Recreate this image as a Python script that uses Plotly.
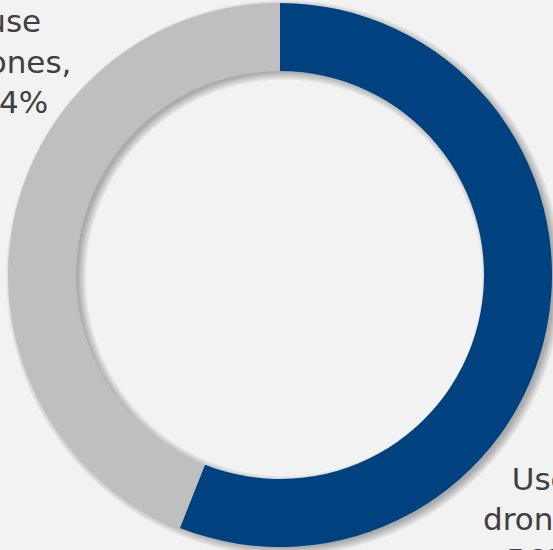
import numpy as np
import plotly.graph_objects as go

# Survey split: share of respondents who use drones
categories = ["Use drones", "Don't use drones"]
shares = [56, 44]
label_lines = [["Use", "drones,"], ["Don't", "use", "drones,"]]
colors = ["#00427f", "#bfbfbf"]

W, H = 553, 550
CX, CY = 280, 275          # ring centre in pixels
R_OUT, R_IN = 272, 204     # outer / inner radius in pixels
SH_DX, SH_DY = 4, 3        # shadow offset in pixels


def domain_for(cx, cy, r):
    return dict(x=[(cx - r) / W, (cx + r) / W],
                y=[1 - (cy + r) / H, 1 - (cy - r) / H])


def circle_path(cx, cy, r, n=240):
    t = np.linspace(0, 2 * np.pi, n, endpoint=False)
    xs = (cx + r * np.cos(t)) / W
    ys = 1 - (cy + r * np.sin(t)) / H
    pts = " L".join(f"{x:.5f},{y:.5f}" for x, y in zip(xs, ys))
    return "M" + pts + " Z"


fig = go.Figure()

# soft drop shadow under the ring: stacked faint offset ring shapes
shapes = []
for spread in [6, 5, 4, 3, 2, 1, 0, -1, -2]:
    path = circle_path(CX + SH_DX, CY + SH_DY, R_OUT + spread) + " " + \
        circle_path(CX + SH_DX, CY + SH_DY, R_IN - spread)
    shapes.append(dict(
        type="path", path=path, xref="paper", yref="paper",
        fillcolor="rgba(0,0,0,0.035)", line=dict(width=0),
        fillrule="evenodd", layer="below",
    ))

fig.add_trace(go.Pie(
    labels=categories,
    values=shares,
    hole=R_IN / R_OUT,
    domain=domain_for(CX, CY, R_OUT),
    sort=False,
    direction="clockwise",
    rotation=0,
    marker=dict(colors=colors, line=dict(width=0)),
    textinfo="none",
    showlegend=False,
))

font = dict(family="DejaVu Sans", size=31, color="#404040")


def label_text(lines, value):
    return "<br>".join(lines + [f"{value}%"])


# data labels outside the ring
fig.add_annotation(
    text=label_text(label_lines[0], shares[0]),
    x=540 / W, y=1 - 580 / H, xref="paper", yref="paper",
    xanchor="center", yanchor="bottom", align="center",
    showarrow=False, font=font,
)
fig.add_annotation(
    text=label_text(label_lines[1], shares[1]),
    x=13 / W, y=1 - 122 / H, xref="paper", yref="paper",
    xanchor="center", yanchor="bottom", align="center",
    showarrow=False, font=font,
)

fig.update_layout(
    width=W, height=H,
    margin=dict(l=0, r=0, t=0, b=0),
    paper_bgcolor="#f2f2f2",
    plot_bgcolor="#f2f2f2",
    showlegend=False,
    shapes=shapes,
)

fig.write_html("out.html")
